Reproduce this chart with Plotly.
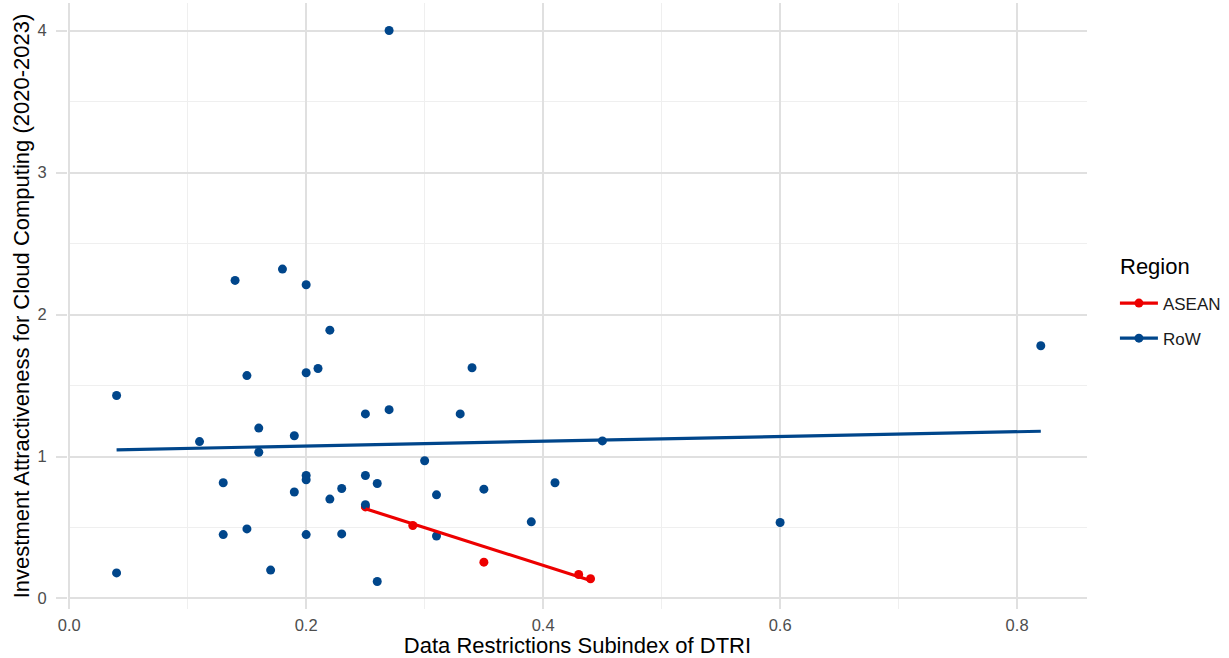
import plotly.graph_objects as go

# ---- data ----
row_x = [0.04, 0.04, 0.11, 0.13, 0.13, 0.14, 0.15, 0.15, 0.16, 0.16,
         0.17, 0.18, 0.19, 0.19, 0.20, 0.20, 0.20, 0.20, 0.20, 0.21,
         0.22, 0.22, 0.23, 0.23, 0.25, 0.25, 0.25, 0.26, 0.26, 0.27,
         0.27, 0.30, 0.31, 0.31, 0.33, 0.34, 0.35, 0.39, 0.41, 0.45,
         0.60, 0.82]
row_y = [1.43, 0.18, 1.105, 0.815, 0.45, 2.24, 1.57, 0.49, 1.20, 1.03,
         0.20, 2.32, 1.146, 0.75, 2.21, 1.59, 0.866, 0.836, 0.45, 1.62,
         1.89, 0.70, 0.775, 0.455, 1.30, 0.866, 0.66, 0.81, 0.12, 4.00,
         1.33, 0.97, 0.73, 0.44, 1.30, 1.625, 0.77, 0.54, 0.815, 1.11,
         0.535, 1.78]
asean_x = [0.25, 0.29, 0.35, 0.43, 0.44]
asean_y = [0.645, 0.514, 0.256, 0.169, 0.139]

# fitted linear trend lines (endpoints)
row_fit_x = [0.04, 0.82]
row_fit_y = [1.047, 1.178]
asean_fit_x = [0.25, 0.44]
asean_fit_y = [0.632, 0.127]

regions = ["ASEAN", "RoW"]
colors = {"ASEAN": "#ED0000", "RoW": "#00468B"}
points = {"ASEAN": (asean_x, asean_y), "RoW": (row_x, row_y)}
fits = {"ASEAN": (asean_fit_x, asean_fit_y), "RoW": (row_fit_x, row_fit_y)}

x_title = "Data Restrictions Subindex of DTRI"
y_title = "Investment Attractiveness for Cloud Computing (2020-2023)"
legend_title = "Region"

FONT = "Liberation Sans, Arial, sans-serif"
GRID = "#E0E0E0"
MINOR = "#EFEFEF"

fig = go.Figure()

for r in regions:
    xs, ys = points[r]
    fig.add_trace(go.Scatter(x=xs, y=ys, mode="markers",
                             marker=dict(color=colors[r], size=9),
                             showlegend=False, hoverinfo="x+y", name=r))

for r in regions:
    fx, fy = fits[r]
    fig.add_trace(go.Scatter(x=fx, y=fy, mode="lines",
                             line=dict(color=colors[r], width=3.2),
                             showlegend=False, hoverinfo="skip", name=r))

for r in regions:
    fig.add_trace(go.Scatter(x=[None], y=[None], mode="lines+markers", name=r,
                             legendgroup=r,
                             line=dict(color=colors[r], width=3.2),
                             marker=dict(color=colors[r], size=9)))

fig.add_annotation(text=legend_title, xref="paper", yref="paper",
                   x=1.0303, y=0.5644, xanchor="left", yanchor="middle",
                   showarrow=False, font=dict(size=22, color="black", family=FONT))

fig.update_layout(
    width=1229, height=658,
    margin=dict(l=68, r=138, t=3, b=49, pad=0),
    paper_bgcolor="white", plot_bgcolor="white",
    font=dict(family=FONT, color="#4D4D4D"),
    legend=dict(font=dict(size=17, color="#1A1A1A"),
                x=1.0274, y=0.4752, xanchor="left", yanchor="middle",
                tracegroupgap=10, itemwidth=38, bgcolor="rgba(0,0,0,0)"),
    xaxis=dict(range=[-0.001, 0.859], dtick=0.2, tick0=0, tickformat=".1f",
               showgrid=True, gridcolor=GRID, gridwidth=1.6,
               minor=dict(dtick=0.1, tick0=0, showgrid=True, gridcolor=MINOR, gridwidth=1.2),
               zeroline=False, showline=False, ticks="", automargin=False,
               tickfont=dict(size=16.5, color="#4D4D4D"), ticklabelstandoff=4,
               title=dict(text=x_title, font=dict(size=22, color="black"), standoff=12)),
    yaxis=dict(range=[-0.074, 4.194], dtick=1, tick0=0, tickformat="d",
               showgrid=True, gridcolor=GRID, gridwidth=1.6,
               minor=dict(dtick=0.5, tick0=0, showgrid=True, gridcolor=MINOR, gridwidth=1.2),
               zeroline=False, showline=False, automargin=False,
               ticks="outside", ticklen=11, tickcolor=GRID, tickwidth=1.6,
               tickfont=dict(size=16.5, color="#4D4D4D"), ticklabelstandoff=6,
               title=dict(text=y_title, font=dict(size=22, color="black"), standoff=1)),
)

fig.write_html("out.html", config={"displayModeBar": False},
               post_script="document.body.style.margin='0px';")
